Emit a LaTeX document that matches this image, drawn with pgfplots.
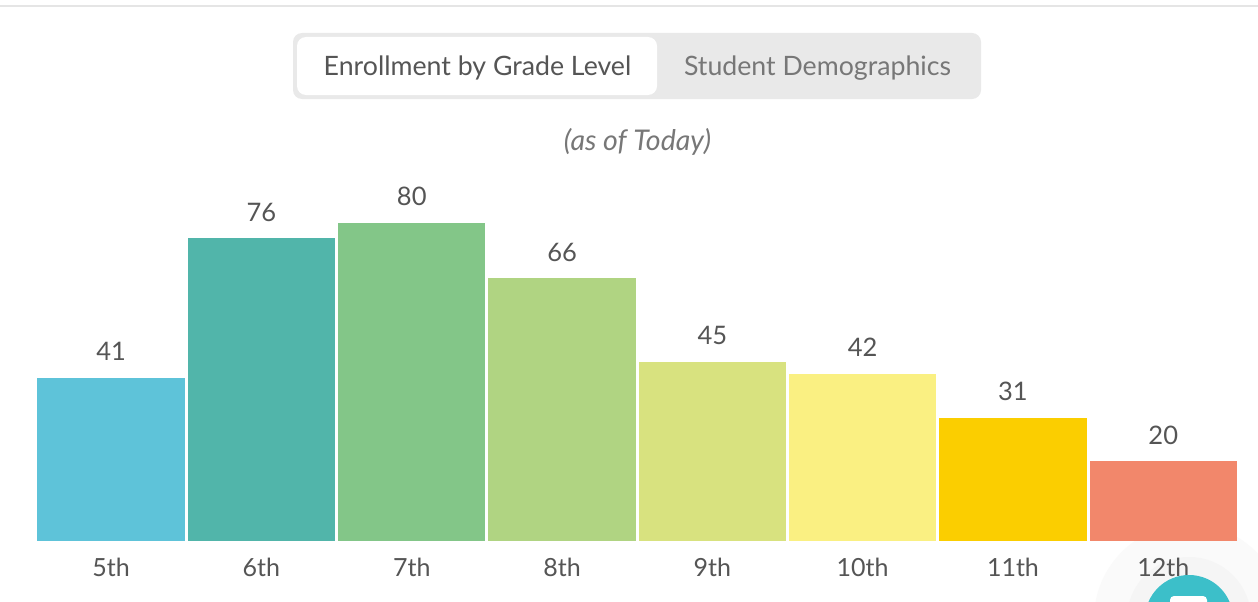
\documentclass[border=0pt]{standalone}
\usepackage{pgfplots}
\pgfplotsset{compat=1.18}
\usepackage{fontspec}
\setmainfont{Lato}
\definecolor{txt}{HTML}{555555}
\definecolor{txtb}{HTML}{777777}
\begin{document}
\begin{tikzpicture}[x=1pt,y=-1pt]
\path[use as bounding box] (0,0) rectangle (1258,602);
\begin{scope}
\clip (0,0) rectangle (1258,602);
\fill[white] (0,0) rectangle (1258,602);
\fill[black!10] (0,5.2) rectangle (1258,7);
% tabs
\fill[black!8.5,rounded corners=9pt] (293,33) rectangle (981,99);
\fill[white,rounded corners=9pt] (297,37) rectangle (657,95);
\node[text=txt,font=\fontsize{26.7}{30}\selectfont,anchor=base] at (477.5,75) {Enrollment by Grade Level};
\node[text=txtb,font=\fontsize{26.7}{30}\selectfont,anchor=base] at (817.5,75) {Student Demographics};
\node[text=txtb,font=\fontsize{28.5}{30}\selectfont\itshape,anchor=base] at (637.5,150.5) {(as of Today)};
% halo
\fill[black!2] (1189,619) circle[radius=95];
\fill[black!4] (1189,619) circle[radius=62];
\begin{axis}[
  at={(36pt,-541pt)},anchor=south west,
  scale only axis,width=1202.5pt,height=318.5pt,
  xmin=-0.5,xmax=7.5,ymin=0,ymax=80,
  clip=false,
  axis line style={draw=none},
  ymajorticks=false,
  xtick={0,...,7},
  xticklabels={5th,6th,7th,8th,9th,10th,11th,12th},
  tick style={draw=none},
  x tick label style={text=txt,font=\fontsize{25}{30}\selectfont,anchor=base,yshift=-31pt},
  ybar,bar width=147.4pt,
  bar shift=0pt,
  /pgf/number format/assume math mode=true,
  nodes near coords,
  every node near coord/.append style={text=txt,font=\fontsize{25.5}{30}\selectfont,anchor=base,yshift=17.2pt},
]
\addplot[draw=none,fill={rgb,255:red,94;green,195;blue,217}] coordinates {(0,41)};
\addplot[draw=none,fill={rgb,255:red,81;green,181;blue,170}] coordinates {(1,76)};
\addplot[draw=none,fill={rgb,255:red,131;green,198;blue,136}] coordinates {(2,80)};
\addplot[draw=none,fill={rgb,255:red,176;green,212;blue,130}] coordinates {(3,66)};
\addplot[draw=none,fill={rgb,255:red,216;green,226;blue,127}] coordinates {(4,45)};
\addplot[draw=none,fill={rgb,255:red,250;green,240;blue,130}] coordinates {(5,42)};
\addplot[draw=none,fill={rgb,255:red,251;green,206;blue,0}] coordinates {(6,31)};
\addplot[draw=none,fill={rgb,255:red,242;green,135;blue,107}] coordinates {(7,20)};
\end{axis}
% chat widget
\fill[fill={rgb,255:red,60;green,191;blue,201}] (1189,619) circle[radius=44];
\fill[white,rounded corners=4pt] (1170,596) rectangle (1207,615);
\end{scope}
\end{tikzpicture}
\end{document}
